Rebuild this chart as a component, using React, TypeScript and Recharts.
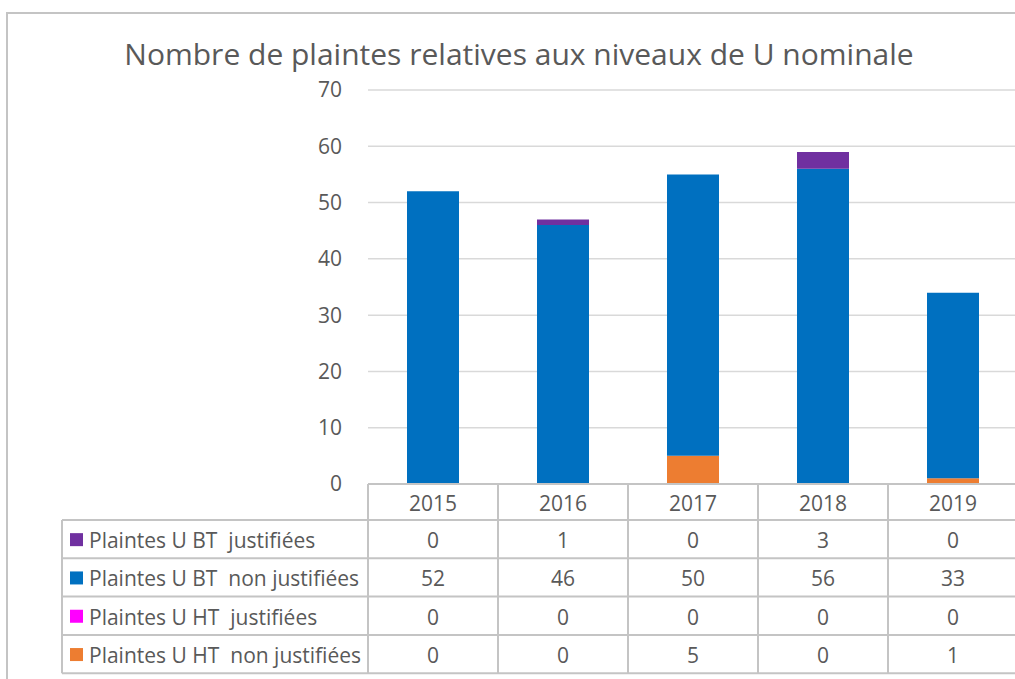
import React from "react";
import { BarChart, Bar, XAxis, YAxis, CartesianGrid } from "recharts";

const years = ["2015", "2016", "2017", "2018", "2019"];
const btJustifiees = [0, 1, 0, 3, 0];
const btNonJustifiees = [52, 46, 50, 56, 33];
const htJustifiees = [0, 0, 0, 0, 0];
const htNonJustifiees = [0, 0, 5, 0, 1];
const yTicks = [0, 10, 20, 30, 40, 50, 60, 70];

// ordre du tableau (haut -> bas)
const series = [
  { key: "btJ", name: "Plaintes U BT  justifiées", color: "#7030A0", values: btJustifiees },
  { key: "btNJ", name: "Plaintes U BT  non justifiées", color: "#0070C0", values: btNonJustifiees },
  { key: "htJ", name: "Plaintes U HT  justifiées", color: "#FF00FF", values: htJustifiees },
  { key: "htNJ", name: "Plaintes U HT  non justifiées", color: "#ED7D31", values: htNonJustifiees },
];

const data = years.map((year, i) => {
  const row: Record<string, string | number> = { year };
  series.forEach((s) => (row[s.key] = s.values[i]));
  return row;
});

const FONT = "'Open Sans', sans-serif";
const TEXT = "#595959";
const LINE = "#c4c4c4";

const CHART_W = 1030;
const CHART_H = 679;
const M_LEFT = 300;
const Y_W = 68;
const M_RIGHT = 12;
const COL_W = (CHART_W - M_LEFT - Y_W - M_RIGHT) / years.length;
const HEAD_H = 36;
const ROW_H = 38.3;
const LEG_LEFT = 62;
const TABLE_FS = 21;

function TableTick(props: any) {
  const { x, y, payload, index } = props;
  const left = x - COL_W / 2;
  const right = x + COL_W / 2;
  const bottom = y + HEAD_H + ROW_H * series.length;
  const rowsTop = y + HEAD_H;
  const plotLeft = M_LEFT + Y_W;
  return (
    <g>
      <line x1={left} x2={left} y1={y} y2={bottom} stroke={LINE} strokeWidth={2} />
      <line x1={right} x2={right} y1={y} y2={bottom} stroke={LINE} strokeWidth={2} />
      <text x={x} y={y + HEAD_H / 2 + 1} textAnchor="middle" dominantBaseline="central" fill={TEXT} fontSize={TABLE_FS} fontFamily={FONT}>
        {payload.value}
      </text>
      {series.map((s, r) => (
        <g key={s.key}>
          <line x1={left} x2={right} y1={rowsTop + r * ROW_H} y2={rowsTop + r * ROW_H} stroke={LINE} strokeWidth={2} />
          <text x={x} y={rowsTop + r * ROW_H + ROW_H / 2 + 1} textAnchor="middle" dominantBaseline="central" fill={TEXT} fontSize={TABLE_FS} fontFamily={FONT}>
            {s.values[payload.index ?? index]}
          </text>
        </g>
      ))}
      <line x1={left} x2={right} y1={bottom} y2={bottom} stroke={LINE} strokeWidth={2} />
      {index === 0 && (
        <g>
          <line x1={LEG_LEFT} x2={LEG_LEFT} y1={rowsTop} y2={bottom} stroke={LINE} strokeWidth={2} />
          {series.map((s, r) => (
            <g key={s.key}>
              <line x1={LEG_LEFT} x2={plotLeft} y1={rowsTop + r * ROW_H} y2={rowsTop + r * ROW_H} stroke={LINE} strokeWidth={2} />
              <rect x={LEG_LEFT + 8} y={rowsTop + r * ROW_H + ROW_H / 2 - 6} width={13} height={13} fill={s.color} />
              <text x={LEG_LEFT + 27} y={rowsTop + r * ROW_H + ROW_H / 2 + 1} dominantBaseline="central" fill={TEXT} fontSize={TABLE_FS} fontFamily={FONT} style={{ whiteSpace: "pre" }}>
                {s.name}
              </text>
            </g>
          ))}
          <line x1={LEG_LEFT} x2={plotLeft} y1={bottom} y2={bottom} stroke={LINE} strokeWidth={2} />
        </g>
      )}
    </g>
  );
}

export default function App() {
  return (
    <div style={{ position: "absolute", left: 0, top: 0, width: 1015, height: 679, overflow: "hidden", background: "#fff" }}>
      <div
        style={{
          position: "absolute",
          left: 6,
          top: 12,
          width: 1100,
          height: 800,
          borderLeft: `2px solid ${LINE}`,
          borderTop: `2px solid ${LINE}`,
        }}
      />
      <div
        style={{
          position: "absolute",
          left: 0,
          top: 33,
          width: 1038,
          textAlign: "center",
          fontFamily: FONT,
          fontSize: 30,
          color: TEXT,
          whiteSpace: "nowrap",
        }}
      >
        Nombre de plaintes relatives aux niveaux de U nominale
      </div>
      <div style={{ position: "absolute", left: 0, top: 0 }}>
        <BarChart
          width={CHART_W}
          height={CHART_H}
          data={data}
          margin={{ top: 90, right: M_RIGHT, left: M_LEFT, bottom: 5 }}
          barSize={52}
        >
          <CartesianGrid vertical={false} stroke="#d9d9d9" strokeWidth={1.5} />
          <XAxis
            dataKey="year"
            height={190}
            tickSize={0}
            tickMargin={0}
            tickLine={false}
            axisLine={{ stroke: LINE, strokeWidth: 2 }}
            tick={<TableTick />}
            interval={0}
          />
          <YAxis
            width={Y_W}
            domain={[0, 70]}
            ticks={yTicks}
            tickSize={0}
            tickMargin={26}
            tickLine={false}
            axisLine={false}
            tick={{ fill: TEXT, fontSize: 21, fontFamily: FONT }}
          />
          <Bar dataKey="htNJ" stackId="a" fill="#ED7D31" isAnimationActive={false} />
          <Bar dataKey="htJ" stackId="a" fill="#FF00FF" isAnimationActive={false} />
          <Bar dataKey="btNJ" stackId="a" fill="#0070C0" isAnimationActive={false} />
          <Bar dataKey="btJ" stackId="a" fill="#7030A0" isAnimationActive={false} />
        </BarChart>
      </div>
    </div>
  );
}
